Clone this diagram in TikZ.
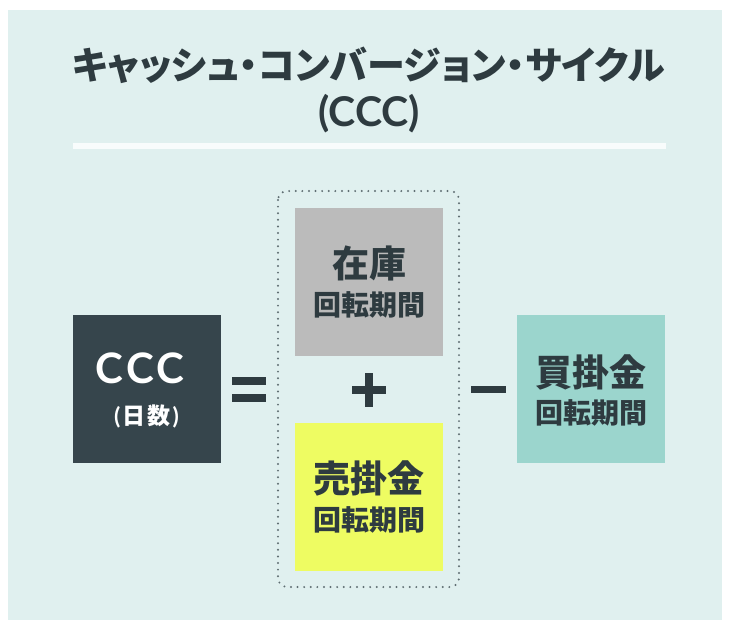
\documentclass[tikz,border=0pt]{standalone}
\usepackage{fontspec}
\newfontfamily\jp{Noto Sans CJK JP}[RawFeature=+palt]
\newfontfamily\jpn{Noto Sans CJK JP}
\newfontfamily\lat{Lato}
\definecolor{panel}{RGB}{224,240,239}
\definecolor{darkbox}{RGB}{54,69,76}
\definecolor{graybox}{RGB}{187,187,187}
\definecolor{yellowbox}{RGB}{238,252,98}
\definecolor{tealbox}{RGB}{155,213,205}
\definecolor{ink}{RGB}{46,59,64}
\definecolor{rule}{RGB}{248,252,252}
\definecolor{dotc}{RGB}{95,110,114}
\tikzset{
  box/.style={minimum width=148pt, minimum height=148pt, inner sep=0pt, outer sep=0pt},
  bigtxt/.style={inner sep=0pt, text=ink, font=\jpn\bfseries\fontsize{37}{40}\selectfont},
  smalltxt/.style={inner sep=0pt, text=ink, font=\jpn\bfseries\fontsize{28}{30}\selectfont},
  titletxt/.style={inner sep=0pt, text=ink, font=\jp\bfseries\fontsize{38}{40}\selectfont},
  opbar/.style={fill=ink}
}
\begin{document}
\begin{tikzpicture}[x=1pt,y=-1pt]
\useasboundingbox (0,0) rectangle (732,625);
\fill[white] (0,0) rectangle (732,625);
\fill[panel] (8,10) rectangle (722,620);
% title
\node[titletxt] (t1) at (368.5,65) {キャッシュ・コンバージョン・サイクル};
\node[inner sep=0pt, text=ink, font=\lat\bfseries\fontsize{41}{44}\selectfont] (t2) at (369,114) {(CCC)};
\coordinate (r1) at (73,146);
\coordinate (r2) at (666,146);
\draw[rule, line width=6pt] (r1) -- (r2);
% dotted group
\draw[dotc, line width=2.2pt, dash pattern=on 0pt off 6.6pt, line cap=round, rounded corners=9pt] (278,191) rectangle (459,587);
% boxes
\node[box, fill=darkbox] (ccc) at (147,389) {};
\node[box, fill=graybox] (inv) at (369,282) {};
\node[box, fill=yellowbox] (ar) at (369,496.5) {};
\node[box, fill=tealbox] (ap) at (591,389) {};
% texts
\node[inner sep=0pt, text=white, font=\lat\bfseries\fontsize{42}{45}\selectfont] (cccA) at ([xshift=-7pt,yshift=21pt]ccc.center) {C\kern3ptC\kern3ptC};
\node[inner sep=0pt, text=white, font=\jpn\bfseries\fontsize{23}{25}\selectfont] (cccB) at ([xshift=-0.5pt,yshift=-27.5pt]ccc.center) {{\lat (}\kern2pt日\kern2pt数\kern2pt{\lat )}};
\node[bigtxt] (invA) at ([yshift=19pt]inv.center) {在庫};
\node[smalltxt] (invB) at ([yshift=-23pt]inv.center) {回転期間};
\node[bigtxt] (arA) at ([yshift=18.5pt]ar.center) {売掛金};
\node[smalltxt] (arB) at ([yshift=-23.5pt]ar.center) {回転期間};
\node[bigtxt] (apA) at ([yshift=17pt]ap.center) {買掛金};
\node[smalltxt] (apB) at ([yshift=-24pt]ap.center) {回転期間};
% operators
\fill[opbar] (232,377) rectangle (266,385);
\fill[opbar] (232,394) rectangle (266,402);
\fill[opbar] (352,385.5) rectangle (386,393.5);
\fill[opbar] (365,373) rectangle (373,407);
\fill[opbar] (471,386) rectangle (506,393);
\end{tikzpicture}
\end{document}
